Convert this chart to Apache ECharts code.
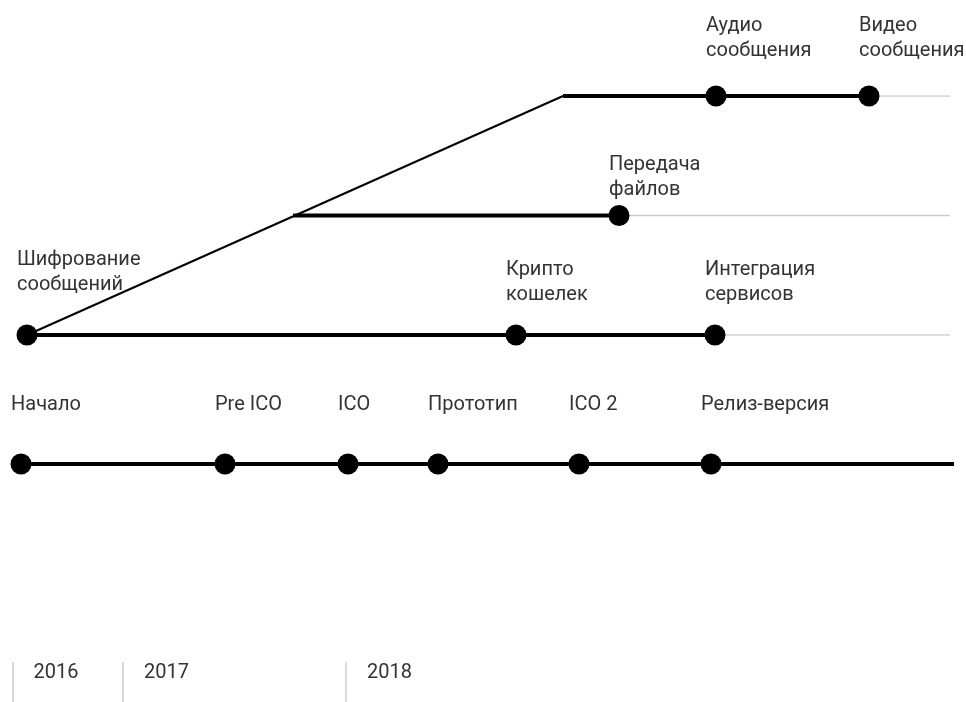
<!DOCTYPE html>
<html>
<head>
<meta charset="utf-8">
<script src="https://cdn.jsdelivr.net/npm/echarts@6/dist/echarts.min.js"></script>
<style>
html,body{margin:0;padding:0;background:#fff;}
#chart{width:966px;height:702px;}
</style>
</head>
<body>
<div id="chart"></div>
<script>
// ---- data (x = position on the timeline scale) ----
const years = ['2016', '2017', '2018'];
const yearPos = [12.5, 123, 346];

const baseNames = ['Начало', 'Pre ICO', 'ICO', 'Прототип', 'ICO 2', 'Релиз-версия'];
const basePos = [21, 225, 348, 438, 579, 711];
const baseEnd = 954;

// upper branches: track 0 (lowest), 1, 2 (highest)
const track0Names = ['Шифрование\nсообщений', 'Крипто\nкошелек', 'Интеграция\nсервисов'];
const track0Pos = [27, 516, 715];
const track1Names = ['Передача\nфайлов'];
const track1Pos = [619];
const track1Start = 293;
const track2Names = ['Аудио\nсообщения', 'Видео\nсообщения'];
const track2Pos = [716, 869];
const track2Start = 563;
const trackEnd = 950;

// ---- label styling (distance of text above the dot) ----
const track0LabelDist = [27, 17, 17];
const track1LabelDist = [3];
const track2LabelDist = [22];

const FONT = 'Roboto';
const TEXT = '#333';
const BLACK = '#000';
const GREY = '#cccccc';

function pts(xs, y) { return xs.map(x => [x, y]); }

function eventData(names, xs, y, dists) {
  return names.map((n, i) => ({
    value: [xs[i], y],
    name: n,
    label: { distance: dists[i] !== undefined ? dists[i] : dists[dists.length - 1] }
  }));
}

const labelBase = {
  show: true,
  position: 'top',
  align: 'left',
  offset: [-10, 0],
  formatter: p => p.name,
  fontFamily: FONT,
  fontSize: 20,
  lineHeight: 25,
  color: TEXT
};

const chart = echarts.init(document.getElementById('chart'), null, { renderer: 'canvas' });

const xCommon = { type: 'value', min: 0, max: 966, show: false };

const option = {
  animation: false,
  backgroundColor: '#fff',
  grid: [
    { left: 0, right: 0, top: 96, bottom: 702 - 335 },   // upper branches
    { left: 0, right: 0, top: 414, bottom: 702 - 514 },  // base timeline
    { left: 0, right: 0, top: 662, bottom: 0 }           // years
  ],
  xAxis: [
    Object.assign({ gridIndex: 0 }, xCommon),
    Object.assign({ gridIndex: 1 }, xCommon),
    {
      gridIndex: 2, type: 'value', min: 0, max: 966, position: 'top',
      axisLine: { show: false },
      splitLine: { show: false },
      axisTick: { show: false },
      axisLabel: {
        show: true, inside: true, margin: 11, customValues: yearPos,
        verticalAlign: 'middle', align: 'left', padding: [0, 0, 0, 21],
        formatter: v => years[yearPos.indexOf(v)],
        fontFamily: FONT, fontSize: 20, color: TEXT
      }
    }
  ],
  yAxis: [
    { gridIndex: 0, type: 'value', min: 0, max: 2, show: false },
    { gridIndex: 1, type: 'value', min: -1, max: 1, show: false },
    { gridIndex: 2, type: 'value', min: 0, max: 1, show: false }
  ],
  series: [
    // year separators
    {
      type: 'line', xAxisIndex: 2, yAxisIndex: 2, data: [], silent: true,
      markLine: {
        silent: true, symbol: 'none', label: { show: false },
        lineStyle: { color: GREY, width: 1.5, type: 'solid' },
        data: yearPos.map(x => ({ xAxis: x }))
      }
    },
    // base timeline
    {
      type: 'line', xAxisIndex: 1, yAxisIndex: 1, symbol: 'none', silent: true,
      lineStyle: { color: BLACK, width: 4 },
      data: pts([basePos[0], baseEnd], 0), z: 2
    },
    {
      type: 'scatter', xAxisIndex: 1, yAxisIndex: 1, symbolSize: 21,
      itemStyle: { color: BLACK, opacity: 1 }, z: 3,
      label: Object.assign({}, labelBase, { distance: 36 }),
      data: baseNames.map((n, i) => ({ value: [basePos[i], 0], name: n }))
    },
    // diagonal branch connector
    {
      type: 'line', xAxisIndex: 0, yAxisIndex: 0, symbol: 'none', silent: true,
      lineStyle: { color: BLACK, width: 2 },
      data: [[track0Pos[0], 0], [track2Start, 2]], z: 2
    },
    // grey continuations
    {
      type: 'line', xAxisIndex: 0, yAxisIndex: 0, symbol: 'none', silent: true,
      lineStyle: { color: GREY, width: 1.5 },
      data: [[track0Pos[track0Pos.length - 1], 0], [trackEnd, 0]], z: 1
    },
    {
      type: 'line', xAxisIndex: 0, yAxisIndex: 0, symbol: 'none', silent: true,
      lineStyle: { color: GREY, width: 1.5 },
      data: [[track1Pos[track1Pos.length - 1], 1], [trackEnd, 1]], z: 1
    },
    {
      type: 'line', xAxisIndex: 0, yAxisIndex: 0, symbol: 'none', silent: true,
      lineStyle: { color: GREY, width: 1.5 },
      data: [[track2Pos[track2Pos.length - 1], 2], [trackEnd, 2]], z: 1
    },
    // thick track segments
    {
      type: 'line', xAxisIndex: 0, yAxisIndex: 0, symbol: 'none', silent: true,
      lineStyle: { color: BLACK, width: 4 },
      data: [[track0Pos[0], 0], [track0Pos[track0Pos.length - 1], 0]], z: 2
    },
    {
      type: 'line', xAxisIndex: 0, yAxisIndex: 0, symbol: 'none', silent: true,
      lineStyle: { color: BLACK, width: 4 },
      data: [[track1Start, 1], [track1Pos[track1Pos.length - 1], 1]], z: 2
    },
    {
      type: 'line', xAxisIndex: 0, yAxisIndex: 0, symbol: 'none', silent: true,
      lineStyle: { color: BLACK, width: 4 },
      data: [[track2Start, 2], [track2Pos[track2Pos.length - 1], 2]], z: 2
    },
    // event dots
    {
      type: 'scatter', xAxisIndex: 0, yAxisIndex: 0, symbolSize: 21,
      itemStyle: { color: BLACK, opacity: 1 }, z: 3,
      label: labelBase,
      data: eventData(track0Names, track0Pos, 0, track0LabelDist)
        .concat(eventData(track1Names, track1Pos, 1, track1LabelDist))
        .concat(eventData(track2Names, track2Pos, 2, track2LabelDist))
    }
  ]
};

chart.setOption(option);
</script>
</body>
</html>
